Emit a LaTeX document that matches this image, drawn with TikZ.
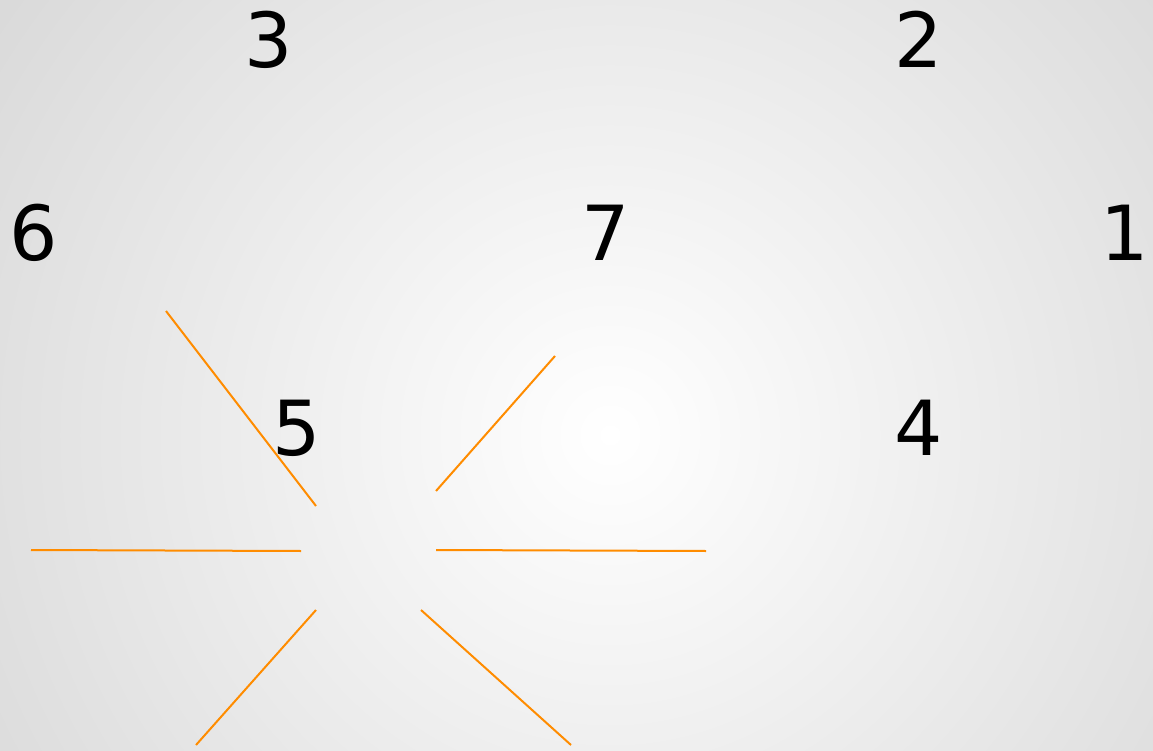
\documentclass[tikz,border=0pt]{standalone}
\usepackage{fontspec}
\setmainfont{DejaVu Sans}
\definecolor{lineorange}{RGB}{255,140,0}
\definecolor{bgedge}{RGB}{165,165,165}
\definecolor{bgfill}{RGB}{214,214,214}
\pgfdeclareradialshading{slidebg}{\pgfpoint{0bp}{0bp}}{color(0bp)=(white); color(50bp)=(bgedge)}
\tikzset{
  digit/.style={inner sep=0pt, anchor=base, font=\fontsize{76}{80}\selectfont, text=black},
  ray/.style={draw=lineorange, line width=2pt}
}
\begin{document}
\begin{tikzpicture}[x=1pt,y=-1pt]
\useasboundingbox (0,0) rectangle (1153,751);
\fill[bgfill] (0,0) rectangle (1153,751);
\begin{scope}
  \clip (0,0) rectangle (1153,751);
  \shade[shading=slidebg] (610,435) circle (900);
\end{scope}
% digits
\node[digit] (n3) at (269,68) {3};
\node[digit] (n2) at (919,68) {2};
\node[digit] (n6) at (34,261) {6};
\node[digit] (n7) at (606,261) {7};
\node[digit] (n1) at (1125,261) {1};
\node[digit] (n5) at (297,455) {5};
\node[digit] (n4) at (919,455) {4};
% rays
\coordinate (a1) at (166,311); \coordinate (b1) at (316,506);
\coordinate (a2) at (555,356); \coordinate (b2) at (436,491);
\coordinate (a3) at (31,550);  \coordinate (b3) at (301,551);
\coordinate (a4) at (436,550); \coordinate (b4) at (706,551);
\coordinate (a5) at (316,610); \coordinate (b5) at (196,745);
\coordinate (a6) at (421,610); \coordinate (b6) at (571,745);
\draw[ray] (a1) -- (b1);
\draw[ray] (a2) -- (b2);
\draw[ray] (a3) -- (b3);
\draw[ray] (a4) -- (b4);
\draw[ray] (a5) -- (b5);
\draw[ray] (a6) -- (b6);
\end{tikzpicture}
\end{document}
